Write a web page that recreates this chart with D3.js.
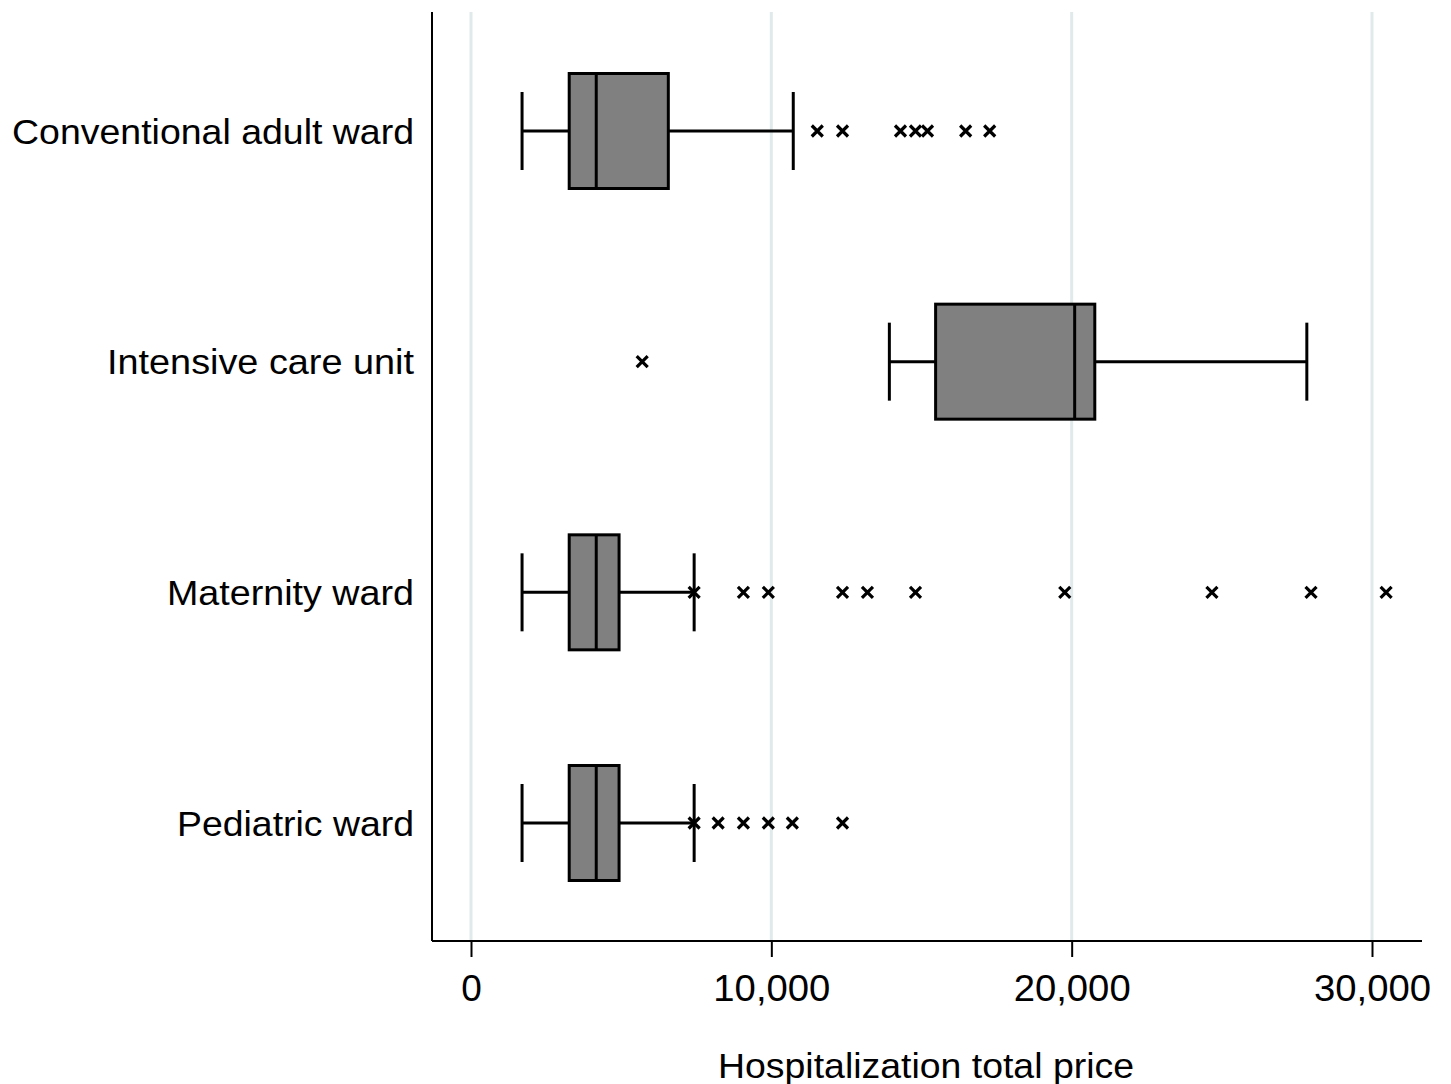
<!DOCTYPE html>
<html>
  <head>
    <meta charset="utf-8">
    <title>Hospitalization total price</title>
    <script src="https://cdn.jsdelivr.net/npm/d3@7"></script>
    <style>
      body { margin: 0; background: #fff; }
      text { font-family: "Liberation Sans", Arial, sans-serif; fill: #000; }
    </style>
  </head>
  <body>
    <svg id="chart" width="1451" height="1084"></svg>

    <script>
      // data
      const wards = ["Conventional adult ward", "Intensive care unit", "Maternity ward", "Pediatric ward"];
      const lowWhisker = [1700, 13930, 1700, 1700];
      const q1 = [3270, 15470, 3270, 3270];
      const median = [4170, 20100, 4170, 4170];
      const q3 = [6570, 20770, 4930, 4930];
      const highWhisker = [10730, 27830, 7430, 7430];
      const outliers = [
        [11530, 12370, 14300, 14800, 15200, 16470, 17270],
        [5700],
        [7430, 9070, 9900, 12370, 13200, 14800, 19770, 24670, 27970, 30470],
        [7430, 8230, 9070, 9900, 10700, 12370]
      ];
      const ticks = [0, 10000, 20000, 30000];

      // layout
      const svg = d3.select("#chart");
      const plotLeft = 432, plotRight = 1422, plotTop = 12, plotBottom = 941;

      const x = d3.scaleLinear().domain([0, 30000]).range([471, 1372]);
      const y = d3.scalePoint().domain(wards).range([131, 823]);
      const boxH = 115, capH = 78;

      // gridlines
      svg.append("g")
        .selectAll("line")
        .data(ticks)
        .join("line")
          .attr("x1", d => x(d)).attr("x2", d => x(d))
          .attr("y1", plotTop).attr("y2", plotBottom)
          .style("stroke", "#e1eaea")
          .style("stroke-width", 3);

      // x axis
      const xAxis = svg.append("g")
        .attr("transform", "translate(0," + plotBottom + ")")
        .call(d3.axisBottom(x).tickValues(ticks).tickSize(16).tickPadding(18).tickFormat(d3.format(",")));
      xAxis.select(".domain").remove();
      xAxis.selectAll(".tick line").style("stroke", "#000").style("stroke-width", 2);
      xAxis.selectAll(".tick text")
        .style("font-size", "37px")
        .each(function(d) {
          if (d !== 0) d3.select(this).attr("textLength", 117).attr("lengthAdjust", "spacingAndGlyphs");
        });
      xAxis.attr("font-family", null).attr("font-size", null);

      svg.append("line")
        .attr("x1", plotLeft).attr("x2", plotRight).attr("y1", plotBottom).attr("y2", plotBottom)
        .style("stroke", "#000").style("stroke-width", 2);
      svg.append("line")
        .attr("x1", plotLeft).attr("x2", plotLeft).attr("y1", plotTop).attr("y2", plotBottom)
        .style("stroke", "#000").style("stroke-width", 2);

      // category labels
      svg.append("g")
        .selectAll("text")
        .data(wards)
        .join("text")
          .attr("x", 414)
          .attr("y", d => y(d))
          .attr("dy", "0.36em")
          .attr("text-anchor", "end")
          .style("font-size", "35px")
          .attr("textLength", (d, i) => [402, 307, 247, 237][i])
          .attr("lengthAdjust", "spacingAndGlyphs")
          .text(d => d);

      // boxes
      const boxes = svg.append("g")
        .selectAll("g")
        .data(wards)
        .join("g");

      boxes.append("line")
        .attr("x1", (d, i) => x(lowWhisker[i])).attr("x2", (d, i) => x(q1[i]))
        .attr("y1", d => y(d)).attr("y2", d => y(d));
      boxes.append("line")
        .attr("x1", (d, i) => x(q3[i])).attr("x2", (d, i) => x(highWhisker[i]))
        .attr("y1", d => y(d)).attr("y2", d => y(d));
      boxes.append("line")
        .attr("x1", (d, i) => x(lowWhisker[i])).attr("x2", (d, i) => x(lowWhisker[i]))
        .attr("y1", d => y(d) - capH / 2).attr("y2", d => y(d) + capH / 2);
      boxes.append("line")
        .attr("x1", (d, i) => x(highWhisker[i])).attr("x2", (d, i) => x(highWhisker[i]))
        .attr("y1", d => y(d) - capH / 2).attr("y2", d => y(d) + capH / 2);
      boxes.append("rect")
        .attr("x", (d, i) => x(q1[i]))
        .attr("width", (d, i) => x(q3[i]) - x(q1[i]))
        .attr("y", d => y(d) - boxH / 2)
        .attr("height", boxH)
        .style("fill", "#808080");
      boxes.append("line")
        .attr("x1", (d, i) => x(median[i])).attr("x2", (d, i) => x(median[i]))
        .attr("y1", d => y(d) - boxH / 2).attr("y2", d => y(d) + boxH / 2);
      boxes.selectAll("line, rect")
        .style("stroke", "#000")
        .style("stroke-width", 3);

      // outliers as small crosses
      const m = 5.5;
      boxes.each(function(d, i) {
        const cy = y(d);
        d3.select(this).selectAll("path.out")
          .data(outliers[i])
          .join("path")
            .attr("class", "out")
            .attr("d", v => {
              const cx = x(v);
              return "M" + (cx - m) + "," + (cy - m) + "L" + (cx + m) + "," + (cy + m) +
                "M" + (cx - m) + "," + (cy + m) + "L" + (cx + m) + "," + (cy - m);
            })
            .style("stroke", "#000")
            .style("stroke-width", 3.2)
            .style("fill", "none");
      });

      // axis title
      svg.append("text")
        .attr("x", 926)
        .attr("y", 1078)
        .attr("text-anchor", "middle")
        .style("font-size", "35px")
        .attr("textLength", 416)
        .attr("lengthAdjust", "spacingAndGlyphs")
        .text("Hospitalization total price");
    </script>
  </body>
</html>
